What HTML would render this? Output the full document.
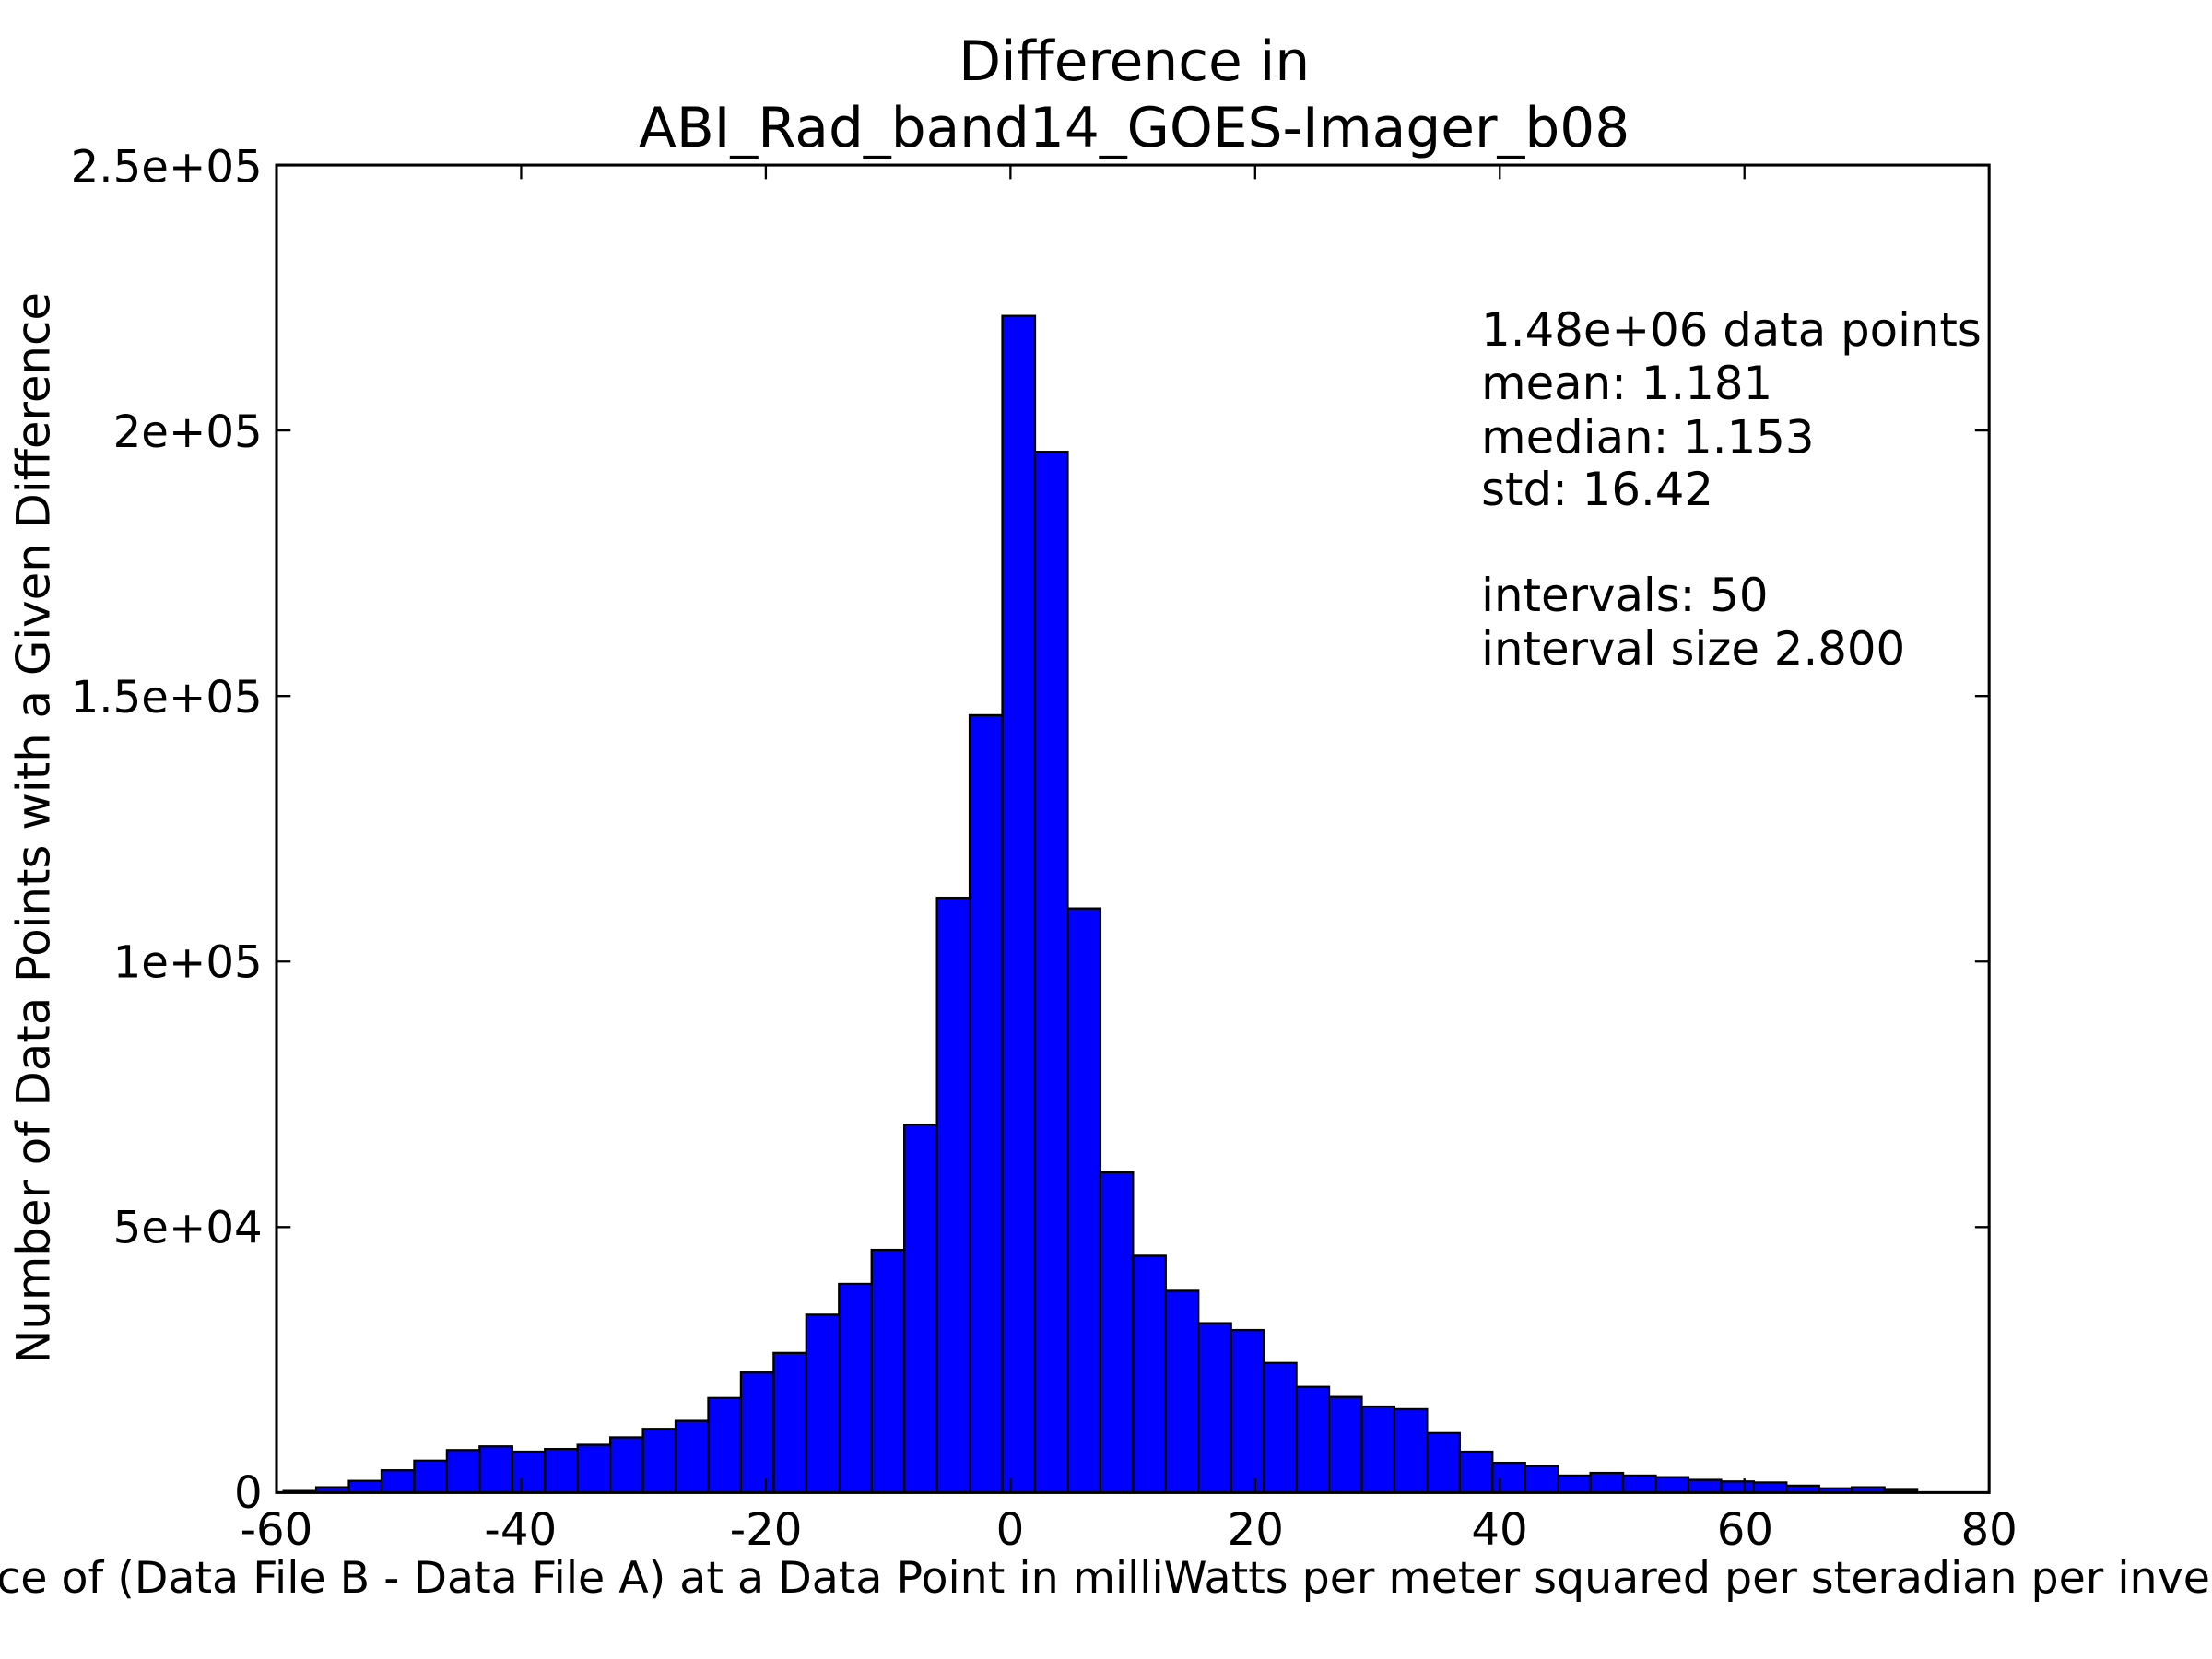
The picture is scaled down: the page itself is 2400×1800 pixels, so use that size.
<!DOCTYPE html>
<html><head><meta charset="utf-8"><style>
html,body{margin:0;padding:0;background:#fff;}
svg{display:block;}
text{font-family:"DejaVu Sans","Liberation Sans",sans-serif;fill:#000;}
</style></head><body>
<svg id="s" width="2400" height="1800" viewBox="0 0 1568 1176" xmlns="http://www.w3.org/2000/svg">
<rect x="0" y="0" width="1568" height="1176" fill="#fff"/>
<g id="bars"></g>
<rect x="196" y="117" width="1214" height="941" fill="none" stroke="#000" stroke-width="2"/>
<g id="ticks" stroke="#000" stroke-width="1.5"></g>
<text x="804" y="57" font-size="39" text-anchor="middle">Difference in</text>
<text x="804" y="104" font-size="39" text-anchor="middle">ABI_Rad_band14_GOES-Imager_b08</text>
<g font-size="31.5" text-anchor="end">
<text x="186" y="1069">0</text>
<text x="186" y="881">5e+04</text>
<text x="186" y="693">1e+05</text>
<text x="186" y="505">1.5e+05</text>
<text x="186" y="317">2e+05</text>
<text x="186" y="129">2.5e+05</text>
</g>
<g font-size="31.5" text-anchor="middle">
<text x="196" y="1095">-60</text>
<text x="369" y="1095">-40</text>
<text x="543" y="1095">-20</text>
<text x="716" y="1095">0</text>
<text x="890" y="1095">20</text>
<text x="1063" y="1095">40</text>
<text x="1237" y="1095">60</text>
<text x="1410" y="1095">80</text>
</g>
<text x="834" y="1129" font-size="31" text-anchor="middle">Difference of (Data File B - Data File A) at a Data Point in milliWatts per meter squared per steradian per inverse centimeter</text>
<text transform="translate(35,587) rotate(-90)" font-size="32.5" text-anchor="middle">Number of Data Points with a Given Difference</text>
<g font-size="32.5">
<text x="1050" y="245">1.48e+06 data points</text>
<text x="1050" y="283">mean: 1.181</text>
<text x="1050" y="321">median: 1.153</text>
<text x="1050" y="358">std: 16.42</text>
<text x="1050" y="433">intervals: 50</text>
<text x="1050" y="471">interval size 2.800</text>
</g>
</svg>
<script>
var h=[0.3,1,2.2,4.2,6,8,8.7,7.7,8.2,9,10.4,12,13.5,17.8,22.6,26.3,33.5,39.3,45.7,69.3,112,146.4,221.6,196,110,60.3,44.6,38,31.9,30.6,24.4,19.9,18,16.2,15.7,11.2,7.7,5.6,5,3.2,3.7,3.2,2.9,2.4,2.1,1.9,1.3,0.8,1,0.5];
var ns="http://www.w3.org/2000/svg",g=document.getElementById('bars'),w=(1359-201)/50;
h.forEach(function(v,i){var r=document.createElementNS(ns,'rect');var ht=v*3.764;
r.setAttribute('x',201+i*w);r.setAttribute('y',1058-ht);r.setAttribute('width',w);r.setAttribute('height',ht);
r.setAttribute('fill','#0000ff');r.setAttribute('stroke','#000');r.setAttribute('stroke-width','1.5');g.appendChild(r);});
var t=document.getElementById('ticks'),d='';
for(var k=0;k<=5;k++){var y=1058-k*188.2;d+='M196 '+y+'h10M1410 '+y+'h-10';}
for(var k=0;k<=7;k++){var x=196+k*173.43;d+='M'+x+' 1058v-10M'+x+' 117v10';}
var p=document.createElementNS(ns,'path');p.setAttribute('d',d);p.setAttribute('fill','none');t.appendChild(p);
</script>
</body></html>
